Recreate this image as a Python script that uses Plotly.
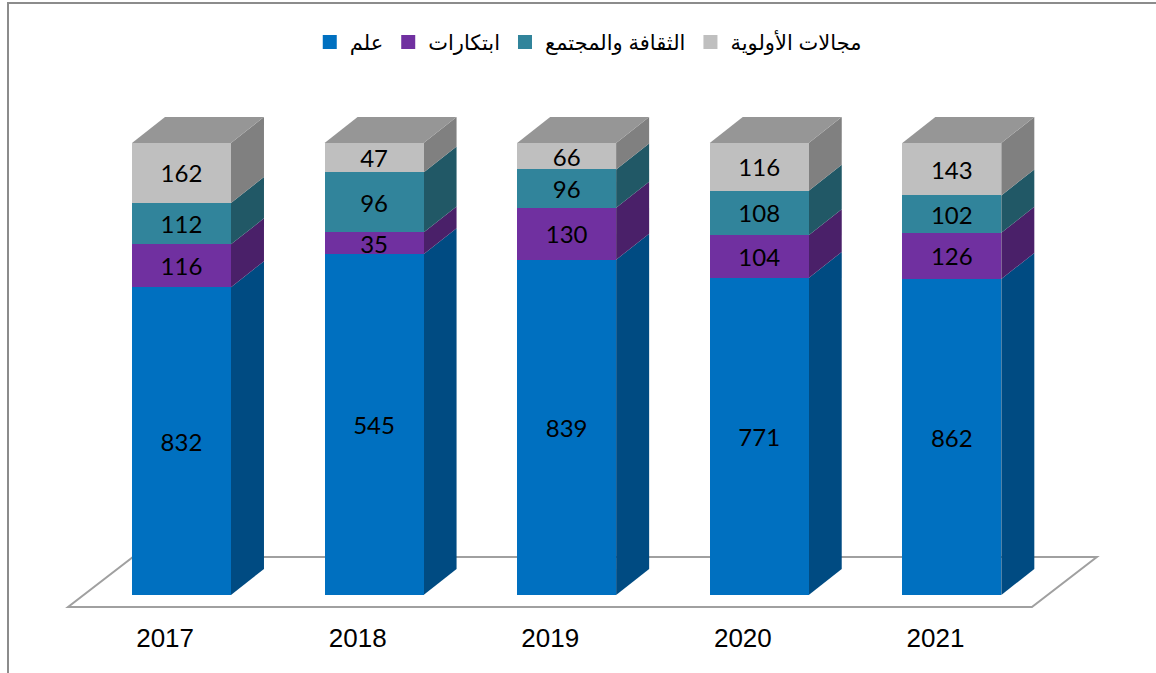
import plotly.graph_objects as go

years = ["2017", "2018", "2019", "2020", "2021"]
series_names = ["علم", "ابتكارات", "الثقافة والمجتمع", "مجالات الأولوية"]
science = [832, 545, 839, 771, 862]
innovation = [116, 35, 130, 104, 126]
culture = [112, 96, 96, 108, 102]
priority = [162, 47, 66, 116, 143]

series_values = [science, innovation, culture, priority]
front_colors = ["#0070C0", "#7030A0", "#31849B", "#BFBFBF"]
side_colors = ["#004B82", "#4A2069", "#215866", "#808080"]
top_color = "#969696"

x_pos = list(range(len(years)))
totals = [sum(s[i] for s in series_values) for i in range(len(years))]

BAR_W = 0.514
DX = 0.1714   # depth offset in x units
DY = 5.75     # depth offset in y (percent) units
LABEL_SHIFT = -0.085  # category labels sit under the floor's front edge

fig = go.Figure()

shapes = []
# floor
floor_path = "M -0.589,-2.65 L 4.416,-2.65 L 4.753,8.41 L -0.252,8.41 Z"
shapes.append(dict(type="path", xref="x", yref="y", path=floor_path,
                   line=dict(color="#A0A0A0", width=2), fillcolor="rgba(255,255,255,0)",
                   layer="below"))

for si, vals in enumerate(series_values):
    fig.add_trace(go.Bar(
        x=x_pos, y=vals, name=series_names[si], width=BAR_W,
        marker=dict(color=front_colors[si], line=dict(width=0)),
        text=[str(v) for v in vals], texttemplate="%{text}",
        textposition="inside", insidetextanchor="middle", textangle=0,
        constraintext="none",
        textfont=dict(family="Lato, Carlito, sans-serif", size=24, color="black"),
        hoverinfo="skip", showlegend=False,
    ))

# legend entries with larger square symbols
for si, name in enumerate(series_names):
    fig.add_trace(go.Scatter(
        x=[None], y=[None], mode="markers", name=name,
        marker=dict(symbol="square", size=14, color=front_colors[si]),
        showlegend=True, hoverinfo="skip",
    ))

# side and top faces computed from the stacked percentages
for i in range(len(years)):
    cum = 0.0
    x1 = x_pos[i] + BAR_W / 2
    x0 = x_pos[i] - BAR_W / 2
    for si, vals in enumerate(series_values):
        lo = cum
        hi = cum + vals[i] / totals[i] * 100
        cum = hi
        p = (f"M {x1},{lo} L {x1+DX},{lo+DY} L {x1+DX},{hi+DY} L {x1},{hi} Z")
        shapes.append(dict(type="path", xref="x", yref="y", path=p,
                           fillcolor=side_colors[si], line=dict(width=0), layer="below"))
    top = cum
    p = (f"M {x0},{top} L {x0+DX},{top+DY} L {x1+DX},{top+DY} L {x1},{top} Z")
    shapes.append(dict(type="path", xref="x", yref="y", path=p,
                       fillcolor=top_color, line=dict(width=0), layer="below"))

# outer frame
shapes.append(dict(type="rect", xref="paper", yref="paper",
                   x0=0.0, x1=1.02, y0=-0.12, y1=1.1865,
                   line=dict(color="#8C8C8C", width=2), fillcolor="rgba(0,0,0,0)"))

fig.update_layout(
    barmode="stack", barnorm="percent",
    width=1156, height=673,
    margin=dict(l=8, r=8, t=100, b=53),
    paper_bgcolor="white", plot_bgcolor="white",
    shapes=shapes,
    showlegend=True,
    legend=dict(orientation="h", x=0.509, xanchor="center", y=1.111, yanchor="middle",
                font=dict(family="Liberation Sans, Arial, DejaVu Sans", size=21, color="black"),
                itemwidth=30, traceorder="normal"),
    xaxis=dict(range=[-0.9008, 5.0187], tickvals=[p + LABEL_SHIFT for p in x_pos],
               ticktext=years,
               showgrid=False, zeroline=False, showline=False, ticks="",
               tickfont=dict(family="Liberation Sans, Arial", size=26, color="black")),
    yaxis=dict(range=[-5.531, 109.513], visible=False, showgrid=False, zeroline=False),
    hovermode=False,
)

fig.write_html("out.html", config={"displayModeBar": False},
               post_script="document.body.style.margin='0px';document.body.style.overflow='hidden';")
